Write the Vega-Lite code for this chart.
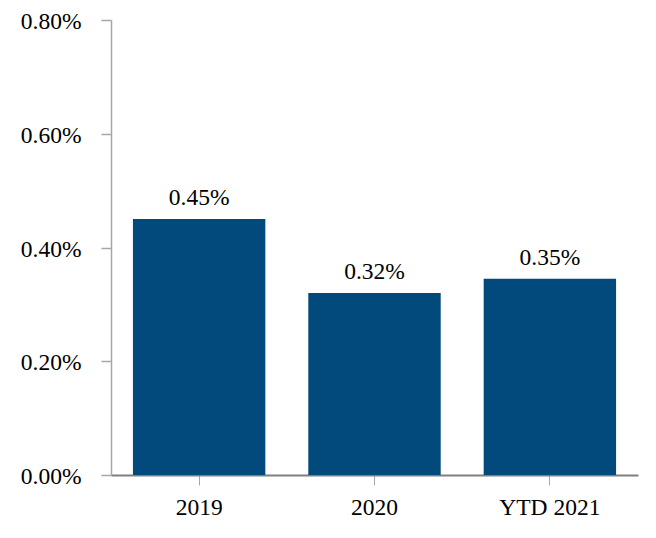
{
  "$schema": "https://vega.github.io/schema/vega-lite/v6.json",
  "autosize": "none",
  "padding": {"left": 111, "top": 20, "right": 18, "bottom": 43},
  "width": 527,
  "height": 455,
  "background": "white",
  "config": {
    "view": {"stroke": null},
    "font": "'Times New Roman', 'Liberation Serif', 'DejaVu Serif', serif"
  },
  "data": {
    "values": [
      {"period": "2019", "rate": 0.0045, "label": "0.45%"},
      {"period": "2020", "rate": 0.0032, "label": "0.32%"},
      {"period": "YTD 2021", "rate": 0.00345, "label": "0.35%"}
    ]
  },
  "encoding": {
    "x": {
      "field": "period",
      "type": "nominal",
      "sort": null,
      "title": null,
      "scale": {"paddingInner": 0.245, "paddingOuter": 0.125},
      "axis": {
        "labelAngle": 0,
        "labelFont": "'Times New Roman', 'Liberation Serif', serif",
        "labelFontSize": 23.5,
        "labelColor": "#000000",
        "labelPadding": 10,
        "domainColor": "#7f7f7f",
        "domainWidth": 2,
        "tickColor": "#a6a6a6",
        "tickSize": 10,
        "grid": false
      }
    },
    "y": {
      "field": "rate",
      "type": "quantitative",
      "title": null,
      "scale": {"domain": [0, 0.008], "nice": false},
      "axis": {
        "values": [0, 0.002, 0.004, 0.006, 0.008],
        "format": ".2%",
        "labelFont": "'Times New Roman', 'Liberation Serif', serif",
        "labelFontSize": 23.5,
        "labelColor": "#000000",
        "labelPadding": 20,
        "labelOffset": 1.5,
        "domainColor": "#a6a6a6",
        "domainWidth": 1.5,
        "tickColor": "#a6a6a6",
        "tickWidth": 1.5,
        "tickSize": 10,
        "grid": false
      }
    }
  },
  "layer": [
    {"mark": {"type": "bar", "color": "#02497c"}},
    {
      "mark": {
        "type": "text",
        "baseline": "bottom",
        "dy": -9,
        "fontSize": 23.5,
        "font": "'Times New Roman', 'Liberation Serif', serif",
        "color": "#000000"
      },
      "encoding": {"text": {"field": "label"}}
    }
  ]
}
